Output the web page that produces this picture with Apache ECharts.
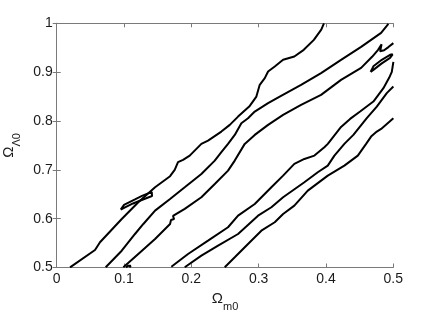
<!DOCTYPE html>
<html>
<head>
<meta charset="utf-8">
<script src="https://cdn.jsdelivr.net/npm/echarts@6/dist/echarts.min.js"></script>
<style>html,body{margin:0;padding:0;background:#fff}#c{width:436px;height:312px}</style>
</head>
<body>
<div id="c"></div>
<script>
// Axis ticks
const xTicks = [0, 0.1, 0.2, 0.3, 0.4, 0.5];
const yTicks = [0.5, 0.6, 0.7, 0.8, 0.9, 1];

// Contour lines: [Omega_m0, Omega_Lambda0]
const contourA = [[0.0198,0.5004],[0.0569,0.5359],[0.0643,0.5516],[0.0966,0.5994],[0.1212,0.6336],[0.1461,0.6643],[0.1684,0.6869],[0.1753,0.6998],[0.1802,0.7156],[0.1877,0.7203],[0.1976,0.7291],[0.2149,0.7531],[0.2248,0.7598],[0.2446,0.7783],[0.2571,0.7920],[0.2694,0.8090],[0.2868,0.8309],[0.2966,0.8500],[0.3016,0.8740],[0.3091,0.8877],[0.3140,0.9012],[0.3239,0.9115],[0.3363,0.9252],[0.3530,0.9320],[0.3670,0.9457],[0.3820,0.9660],[0.3930,0.9870],[0.3970,1.0]];
const contourB = [[0.0728,0.5004],[0.0966,0.5344],[0.1163,0.5686],[0.1287,0.5891],[0.1461,0.6164],[0.1684,0.6404],[0.1902,0.6643],[0.2149,0.6916],[0.2348,0.7189],[0.2446,0.7361],[0.2545,0.7531],[0.2645,0.7715],[0.2743,0.7955],[0.2842,0.8057],[0.2942,0.8193],[0.3140,0.8365],[0.3333,0.8514],[0.3630,0.8740],[0.3927,0.8980],[0.4224,0.9252],[0.4522,0.9518],[0.4819,0.9805],[0.4927,0.9990]];
const contourC = [[0.0990,0.5004],[0.1212,0.5277],[0.1461,0.5584],[0.1684,0.5891],[0.1698,0.5973],[0.1743,0.5994],[0.1728,0.6055],[0.1902,0.6199],[0.2149,0.6439],[0.2348,0.6711],[0.2545,0.6984],[0.2645,0.7189],[0.2793,0.7531],[0.2942,0.7715],[0.3140,0.7920],[0.3363,0.8125],[0.3630,0.8330],[0.3927,0.8535],[0.4224,0.8842],[0.4522,0.9088],[0.4685,0.9314],[0.4774,0.9457],[0.4826,0.9570],[0.4804,0.9426],[0.4863,0.9447],[0.4923,0.9508],[0.5001,0.9594]];
const contourF = [[0.1703,0.5016],[0.1951,0.5277],[0.2248,0.5549],[0.2545,0.5824],[0.2694,0.6061],[0.2942,0.6301],[0.3189,0.6643],[0.3363,0.6881],[0.3530,0.7121],[0.3679,0.7223],[0.3828,0.7291],[0.3976,0.7463],[0.4027,0.7531],[0.4224,0.7879],[0.4358,0.8043],[0.4507,0.8193],[0.4704,0.8398],[0.4853,0.8672],[0.4938,0.8883],[0.4978,0.9006],[0.5001,0.9211]];
const contourG = [[0.1902,0.5004],[0.2149,0.5242],[0.2397,0.5447],[0.2694,0.5686],[0.2991,0.6061],[0.3189,0.6234],[0.3363,0.6439],[0.3679,0.6746],[0.3878,0.6951],[0.4027,0.7086],[0.4125,0.7291],[0.4273,0.7531],[0.4407,0.7715],[0.4606,0.8057],[0.4755,0.8295],[0.4903,0.8570],[0.5001,0.8705]];
const contourH = [[0.2496,0.5004],[0.2645,0.5209],[0.2842,0.5482],[0.3040,0.5754],[0.3239,0.5926],[0.3363,0.6096],[0.3530,0.6266],[0.3730,0.6574],[0.4027,0.6881],[0.4273,0.7086],[0.4473,0.7291],[0.4596,0.7531],[0.4670,0.7680],[0.4755,0.7783],[0.4819,0.7838],[0.5001,0.8057]];
const loopD = [[0.0951,0.6184],[0.1000,0.6281],[0.1163,0.6393],[0.1267,0.6465],[0.1412,0.6547],[0.1438,0.6516],[0.1416,0.6465],[0.1282,0.6393],[0.1134,0.6311],[0.1015,0.6230],[0.0951,0.6184]];
const loopE = [[0.4663,0.9006],[0.4704,0.9119],[0.4829,0.9252],[0.4952,0.9355],[0.4990,0.9365],[0.4952,0.9293],[0.4829,0.9180],[0.4704,0.9047],[0.4663,0.9006]];
const loopS = [[0.1030,0.5003],[0.1060,0.5035],[0.1100,0.5035],[0.1080,0.5003]];

const contours = [contourA, contourB, contourC, contourF, contourG, contourH, loopD, loopE, loopS];

const chart = echarts.init(document.getElementById('c'), null, {renderer: 'canvas'});
const font = 'Liberation Sans, Arial, Helvetica, sans-serif';
const axisColor = '#7a7a7a';
const base = {
  type: 'value', interval: 0.1,
  splitLine: {show: false},
  axisLine: {show: true, lineStyle: {color: axisColor, width: 1}},
  axisTick: {show: true, inside: true, length: 4, lineStyle: {color: axisColor}},
};
const nameRich = {
  a: {fontSize: 15, fontFamily: font, color: '#1a1a1a', lineHeight: 18, verticalAlign: 'top'},
  b: {fontSize: 11, fontFamily: font, color: '#1a1a1a', lineHeight: 13, padding: [10,0,0,0], verticalAlign: 'top'}
};
const option = {
  animation: false,
  backgroundColor: '#fff',
  grid: {left: 56.7, right: 42.7, top: 23.3, bottom: 44.5, containLabel: false, outerBoundsMode: 'none'},
  xAxis: [
    Object.assign({}, base, {
      min: xTicks[0], max: xTicks[xTicks.length-1], position: 'bottom',
      axisLabel: {color: '#1a1a1a', fontSize: 14, fontFamily: font, margin: 5},
      name: '{a|Ω}{b|m0}', nameLocation: 'middle', nameGap: 16,
      nameTextStyle: {rich: nameRich}
    }),
    Object.assign({}, base, {
      min: xTicks[0], max: xTicks[xTicks.length-1], position: 'top',
      axisLabel: {show: false}
    })
  ],
  yAxis: [
    Object.assign({}, base, {
      min: yTicks[0], max: yTicks[yTicks.length-1], position: 'left',
      axisLabel: {color: '#1a1a1a', fontSize: 14, fontFamily: font, margin: 4},
      name: '{a|Ω}{b|Λ0}', nameLocation: 'middle', nameGap: 31, nameRotate: 90,
      nameTextStyle: {rich: nameRich}
    }),
    Object.assign({}, base, {
      min: yTicks[0], max: yTicks[yTicks.length-1], position: 'right',
      axisLabel: {show: false}
    })
  ],
  series: contours.map(d => ({
    type: 'line', data: d, xAxisIndex: 0, yAxisIndex: 0,
    showSymbol: false, symbol: 'none', smooth: false, clip: true,
    lineStyle: {color: '#000', width: 2}
  }))
};
chart.setOption(option);
</script>
</body>
</html>
